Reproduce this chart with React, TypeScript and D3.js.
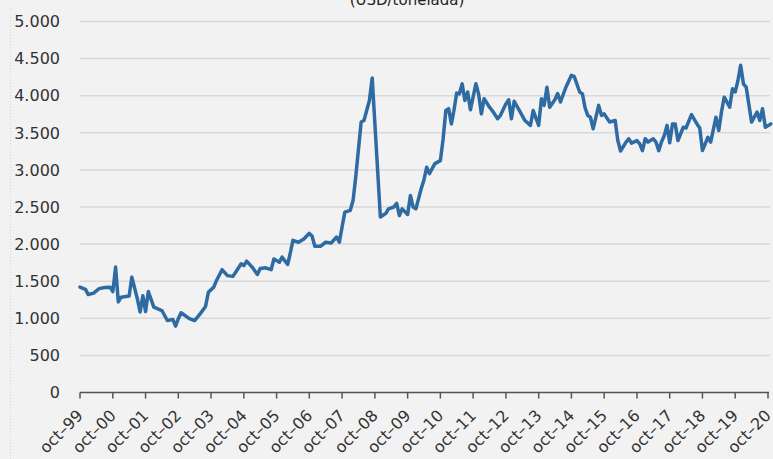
import { useEffect } from 'react';
import * as d3 from 'd3';

// Precio mensual (USD/tonelada), oct-99 a nov-20
const months = [
  '1999-10', '1999-12',
  '2000-01', '2000-03', '2000-05', '2000-07', '2000-09', '2000-10', '2000-11', '2000-12',
  '2001-01', '2001-04', '2001-05', '2001-07', '2001-08', '2001-09', '2001-10', '2001-11',
  '2002-01', '2002-04', '2002-06', '2002-08', '2002-09', '2002-10', '2002-11',
  '2003-02', '2003-04', '2003-06', '2003-08', '2003-09', '2003-11', '2003-12',
  '2004-02', '2004-04', '2004-06', '2004-07', '2004-09', '2004-10', '2004-11',
  '2005-01', '2005-03', '2005-04', '2005-06', '2005-08', '2005-09', '2005-11', '2005-12',
  '2006-02', '2006-03', '2006-04', '2006-06', '2006-08', '2006-10', '2006-11', '2006-12',
  '2007-02', '2007-04', '2007-06', '2007-08', '2007-09', '2007-10', '2007-11',
  '2008-01', '2008-02', '2008-03', '2008-05', '2008-06', '2008-08', '2008-09', '2008-12',
  '2009-02', '2009-03', '2009-05', '2009-06', '2009-07', '2009-08', '2009-10', '2009-11', '2009-12',
  '2010-01', '2010-03', '2010-04', '2010-05', '2010-06', '2010-08', '2010-10', '2010-11', '2010-12',
  '2011-01', '2011-02', '2011-03', '2011-04', '2011-05', '2011-06', '2011-07', '2011-08', '2011-09', '2011-11', '2011-12',
  '2012-01', '2012-02', '2012-04', '2012-05', '2012-07', '2012-08', '2012-10', '2012-11', '2012-12',
  '2013-01', '2013-03', '2013-05', '2013-07', '2013-08', '2013-10', '2013-11', '2013-12',
  '2014-01', '2014-02', '2014-04', '2014-05', '2014-06', '2014-08', '2014-10', '2014-11',
  '2015-01', '2015-02', '2015-03', '2015-04', '2015-05', '2015-06', '2015-08', '2015-09', '2015-10', '2015-12',
  '2016-02', '2016-03', '2016-04', '2016-06', '2016-07', '2016-08', '2016-10', '2016-11', '2016-12',
  '2017-01', '2017-02', '2017-04', '2017-05', '2017-06', '2017-07', '2017-08', '2017-09', '2017-10', '2017-11', '2017-12',
  '2018-01', '2018-03', '2018-04', '2018-06', '2018-08', '2018-09', '2018-10', '2018-12',
  '2019-01', '2019-03', '2019-04', '2019-05', '2019-06', '2019-08', '2019-09', '2019-10', '2019-11', '2019-12',
  '2020-01', '2020-02', '2020-04', '2020-06', '2020-07', '2020-08', '2020-09', '2020-11',
];

const prices = [
  1420, 1390,
  1320, 1340, 1400, 1415, 1420, 1360, 1690, 1220,
  1285, 1300, 1555, 1265, 1085, 1305, 1090, 1360,
  1150, 1105, 970, 985, 895, 995, 1075,
  995, 970, 1060, 1160, 1350, 1420, 1510,
  1655, 1575, 1565, 1620, 1735, 1710, 1770,
  1690, 1590, 1670, 1680, 1655, 1800, 1755, 1825,
  1725, 1870, 2050, 2025, 2070, 2145, 2105, 1970,
  1970, 2025, 2015, 2095, 2025, 2230, 2430,
  2455, 2590, 2900, 3645, 3665, 3935, 4240, 2365,
  2415, 2475, 2500, 2550, 2385, 2475, 2400, 2655, 2500,
  2475, 2745, 2865, 3035, 2950, 3085, 3125, 3420, 3800,
  3825, 3620, 3800, 4035, 4025, 4160, 3935, 4050, 3810, 4160, 4025,
  3755, 3960, 3845, 3800, 3690, 3735, 3890, 3945, 3690,
  3925, 3800, 3665, 3600, 3800, 3600, 3960, 3870,
  4115, 3845, 3950, 4030, 3915, 4115, 4275, 4260,
  4050, 4025, 3845, 3735, 3710, 3555, 3870, 3735, 3755, 3645,
  3665, 3400, 3255, 3375, 3420, 3360, 3395, 3350, 3260,
  3420, 3375, 3420, 3375, 3260, 3375, 3460, 3600, 3365, 3620, 3620,
  3395, 3575, 3565, 3745, 3620, 3565, 3260, 3440,
  3375, 3710, 3530, 3780, 3980, 3845, 4095, 4050, 4205, 4410,
  4160, 4115, 3645, 3780, 3665, 3825, 3575, 3620,
];

const yTicks = [0, 500, 1000, 1500, 2000, 2500, 3000, 3500, 4000, 4500, 5000];
const xTickYears = d3.range(1999, 2021);
const title = '(USD/tonelada)';

const W = 773;
const H = 459;
const FONT = "'DejaVu Sans', Verdana, sans-serif";

const parseMonth = d3.timeParse('%Y-%m');
const fmtTick = (d: Date) => `oct–${d3.timeFormat('%y')(d)}`;
const fmtY = (v: number) => d3.format(',')(v).replace(/,/g, '.');

export default function App() {
  useEffect(() => {
    document.body.style.margin = '0';
    document.body.style.background = '#f2f2f2';
  }, []);

  const x = d3.scaleTime()
    .domain([new Date(1999, 9, 1), new Date(2020, 9, 1)])
    .range([80, 768]);
  const y = d3.scaleLinear().domain([0, 5000]).range([392.5, 21.5]);

  const data = months.map((m, i) => ({ date: parseMonth(m) as Date, value: prices[i] }));
  const line = d3.line<{ date: Date; value: number }>()
    .x(d => x(d.date))
    .y(d => y(d.value));

  const tickDates = xTickYears.map(yr => new Date(yr, 9, 1));

  return (
    <svg width={W} height={H} style={{ display: 'block', background: '#f2f2f2' }}>
      <line x1={10.5} x2={10.5} y1={8} y2={H} stroke="#d6d6d6" strokeDasharray="1,2" />

      <text x={407} y={5} textAnchor="middle" fontFamily={FONT} fontSize={15} fill="#222">
        {title}
      </text>

      {yTicks.filter(t => t > 0).map(t => (
        <line key={t} x1={80} x2={770} y1={y(t)} y2={y(t)} stroke="#d9d9d9" strokeWidth={1.5} />
      ))}
      {yTicks.map(t => (
        <text key={t} x={60} y={y(t)} dy="0.36em" textAnchor="end"
          fontFamily={FONT} fontSize={16} fill="#333">
          {fmtY(t)}
        </text>
      ))}

      <line x1={80} x2={769} y1={392.5} y2={392.5} stroke="#555" strokeWidth={1.5} />
      {tickDates.map(d => (
        <g key={d.getTime()} transform={`translate(${x(d)},392.5)`}>
          <line y1={0} y2={6} stroke="#555" strokeWidth={1.5} />
          <text transform="translate(4,24) rotate(-45)" textAnchor="end"
            fontFamily={FONT} fontSize={16} fill="#333">
            {fmtTick(d)}
          </text>
        </g>
      ))}

      <path d={line(data) || ''} fill="none" stroke="#2f6ba3" strokeWidth={3.5}
        strokeLinejoin="round" strokeLinecap="round" />
    </svg>
  );
}
